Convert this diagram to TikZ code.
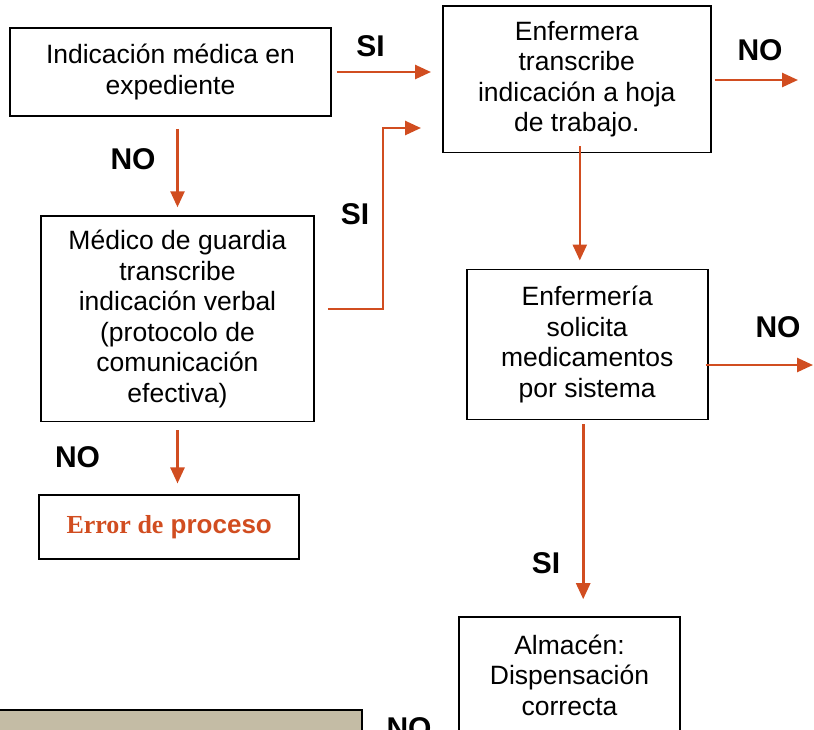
\documentclass[tikz,border=0pt]{standalone}
\usepackage{fontspec}
\setmainfont{Liberation Sans}
\newfontfamily\errserif{Liberation Serif}
\usetikzlibrary{arrows.meta}
\definecolor{flecha}{RGB}{209,77,32}
\definecolor{arena}{RGB}{196,188,165}
\tikzset{
  caja/.style={draw, line width=1.6pt, align=center, inner sep=0pt, font=\fontsize{26.5}{30.5}\selectfont},
  flujo/.style={draw=flecha, line width=2.6pt, -{Triangle[length=16pt,width=14pt]}},
  etiqueta/.style={font=\bfseries\fontsize{30}{34}\selectfont, inner sep=0pt},
}
\begin{document}
\begin{tikzpicture}[x=1pt,y=-1pt]
  \useasboundingbox (0,0) rectangle (814,729);
  \clip (0,0) rectangle (814,729);

  % boxes
  \node[caja, minimum width=321pt, minimum height=88pt] (indic) at (170.5,72) {Indicación médica en\\expediente};
  \node[caja, minimum width=268pt, minimum height=146.5pt] (transc) at (576.8,79.4) {Enfermera\\transcribe\\indicación a hoja\\de trabajo.};
  \node[caja, minimum width=273pt, minimum height=205.5pt] (medico) at (177.5,318.8) {Médico de guardia\\transcribe\\indicación verbal\\(protocolo de\\comunicación\\efectiva)};
  \node[caja, minimum width=260pt, minimum height=63.5pt, text=flecha, font=\bfseries\fontsize{26}{30}\selectfont] (error) at (169.2,527) {{\errserif Error de} proceso};
  \node[caja, minimum width=241pt, minimum height=150pt] (solicita) at (587.2,344.3) {Enfermería\\solicita\\medicamentos\\por sistema};
  \node[caja, minimum width=221pt, minimum height=116pt] (almacen) at (569.5,675) {Almacén:\\Dispensación\\correcta};
  \node[caja, fill=arena, minimum width=372pt, minimum height=60pt] (pie) at (175.7,740) {};

  % labels
  \node[etiqueta] (si1) at (370.5,46.5) {SI};
  \node[etiqueta] (no1) at (133,159) {NO};
  \node[etiqueta] (si2) at (355,214) {SI};
  \node[etiqueta] (no2) at (760,50) {NO};
  \node[etiqueta] (no3) at (77.5,457.5) {NO};
  \node[etiqueta] (no5) at (778,327) {NO};
  \node[etiqueta] (si3) at (546,563) {SI};
  \node[etiqueta] (no4) at (409,727.7) {NO};

  % free ends
  \coordinate (salida1) at (798,80);
  \coordinate (salida2) at (813,365);
  \coordinate (codo) at (383,128);

  % arrows
  \draw[flujo] ([xshift=5pt]indic.east) -- ([xshift=-11pt]indic.east -| transc.west);
  \draw[flujo] ([yshift=-12pt]indic.south -| medico.north) -- ([yshift=8pt]medico.north);
  \draw[flujo] ([xshift=13pt,yshift=10pt]medico.east) -| (codo) -- ([xshift=-21pt]transc.west |- codo);
  \draw[flujo] ([xshift=3pt]transc.east |- salida1) -- (salida1);
  \draw[flujo] ([xshift=3pt,yshift=7pt]transc.south) -- ([xshift=3pt,yshift=8pt]transc.south |- solicita.north);
  \draw[flujo] ([yshift=-8pt]medico.south) -- ([yshift=11pt]error.north -| medico.south);
  \draw[flujo] ([xshift=-3pt]solicita.east |- salida2) -- (salida2);
  \draw[flujo] ([xshift=-4pt,yshift=-4pt]solicita.south) -- ([xshift=-4pt,yshift=17pt]solicita.south |- almacen.north);
\end{tikzpicture}
\end{document}
